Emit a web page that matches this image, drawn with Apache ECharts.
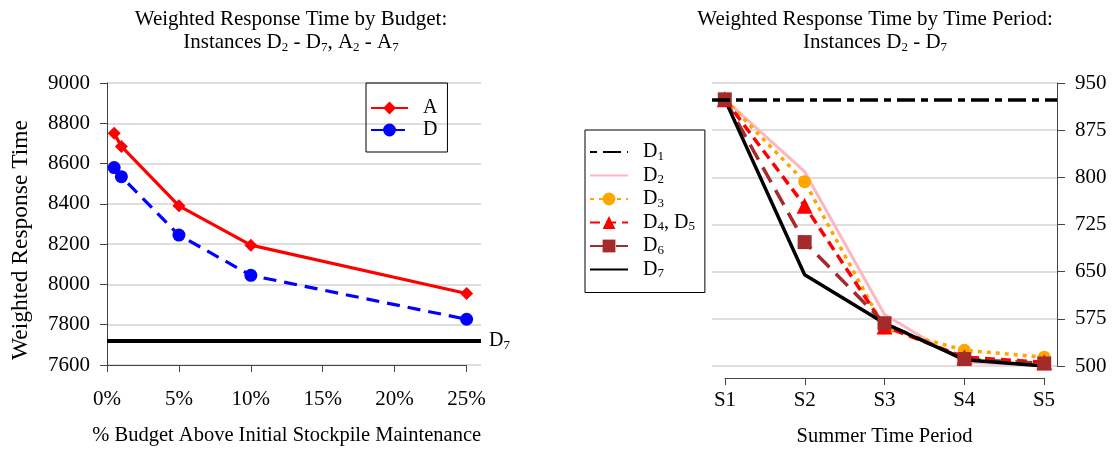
<!DOCTYPE html>
<html>
<head>
<meta charset="utf-8">
<script src="https://cdn.jsdelivr.net/npm/echarts@6/dist/echarts.min.js"></script>
<style>
  html, body { margin: 0; padding: 0; background: #fff; }
  #chart { width: 1112px; height: 452px; }
</style>
</head>
<body>
<div id="chart"></div>
<script>
// left panel - response time vs budget (%)
const budgetPct = [0.5, 1, 5, 10, 25]
const seriesA = [8750, 8685, 8390, 8195, 7955]
const seriesD = [8580, 8535, 8245, 8045, 7827]
const baselineD7 = 7720

// right panel - response time by summer period
const periods = ['S1', 'S2', 'S3', 'S4', 'S5']
const levelD1 = 924
const lineD2 = [924, 809, 582, 506, 501]
const lineD3 = [924, 793, 560, 525, 514]
const lineD4D5 = [924, 755, 563, 514, 506]
const lineD6 = [924, 697, 568, 511, 504]
const lineD7 = [924, 645, 568, 510, 500]

const FONT = 'Liberation Serif'
const AXIS_COLOR = '#444'
const GRID_COLOR = '#d3d3d3'

const rich = {
  s: { fontFamily: FONT, fontSize: 13, lineHeight: 14, verticalAlign: 'bottom', color: '#000' }
}
const subs = name => name.replace(/(\d)/g, '{s|$1}')

const pairs = (xs, ys) => xs.map((x, i) => [x, ys[i]])
const periodPairs = ys => periods.map((p, i) => [i + 1, ys[i]])

// legend entries without a marker (hide the default circle)
const noMarker = name => ({ name: name, itemStyle: { opacity: 0, color: 'rgba(0,0,0,0)', borderWidth: 0 } })

const chart = echarts.init(document.getElementById('chart'), null, { renderer: 'canvas' })

function lineSeries(name, data, color, opts) {
  return Object.assign({
    name: name,
    type: 'line',
    xAxisIndex: 2,
    yAxisIndex: 2,
    data: periodPairs(data),
    symbol: 'none',
    color: color,
    lineStyle: { color: color, width: 3 },
    itemStyle: { color: color },
    emphasis: { disabled: true }
  }, opts)
}

chart.setOption({
  animation: false,
  textStyle: { fontFamily: FONT, color: '#000' },
  title: [
    {
      text: 'Weighted Response Time by Budget:\nInstances D{s|2} - D{s|7}, A{s|2} - A{s|7}',
      left: 286,
      top: 3,
      textAlign: 'center',
      textStyle: { fontFamily: FONT, fontSize: 21, fontWeight: 'normal', color: '#000', lineHeight: 23, rich: rich }
    },
    {
      text: 'Weighted Response Time by Time Period:\nInstances D{s|2} - D{s|7}',
      left: 870,
      top: 3,
      textAlign: 'center',
      textStyle: { fontFamily: FONT, fontSize: 21, fontWeight: 'normal', color: '#000', lineHeight: 23, rich: rich }
    }
  ],
  legend: [
    {
      data: ['A', 'D'],
      orient: 'vertical',
      left: 366,
      top: 83,
      itemWidth: 37,
      itemHeight: 16,
      itemGap: 2,
      padding: [15, 10, 12, 4],
      borderColor: '#000',
      borderWidth: 1,
      borderRadius: 0,
      textStyle: { fontFamily: FONT, fontSize: 20, color: '#000', padding: [0, 0, 0, 10] }
    },
    {
      data: [noMarker('D1'), noMarker('D2'), 'D3', 'D4, D5', 'D6', noMarker('D7')],
      orient: 'vertical',
      left: 585,
      top: 130,
      itemWidth: 38,
      itemHeight: 16,
      itemGap: 1.5,
      padding: [11, 10, 12, 4],
      borderColor: '#000',
      borderWidth: 1,
      borderRadius: 0,
      formatter: subs,
      textStyle: { fontFamily: FONT, fontSize: 20, lineHeight: 22, color: '#000', padding: [0, 0, 0, 10], rich: rich }
    }
  ],
  grid: [
    { left: 107, top: 83, width: 374, height: 282, outerBoundsMode: 'none' },
    { left: 107, top: 115, width: 359.4, height: 250, outerBoundsMode: 'none' },
    { left: 712, top: 83, width: 345, height: 283, outerBoundsMode: 'none' },
    { left: 725, top: 83, width: 319, height: 283, outerBoundsMode: 'none' }
  ],
  xAxis: [
    { gridIndex: 0, type: 'value', min: 0, max: 26, show: false },
    {
      gridIndex: 1, type: 'value', min: 0, max: 25, interval: 5, offset: 12,
      axisLine: { show: true, lineStyle: { color: AXIS_COLOR, width: 1 } },
      axisTick: { show: true, length: 7, lineStyle: { color: AXIS_COLOR } },
      axisLabel: { formatter: '{value}%', margin: 12, fontFamily: FONT, fontSize: 21, color: '#000' },
      splitLine: { show: false },
      name: '% Budget Above Initial Stockpile Maintenance',
      nameLocation: 'middle',
      nameGap: 48,
      nameTextStyle: { fontFamily: FONT, fontSize: 20.5, color: '#000' }
    },
    { gridIndex: 2, type: 'value', min: 0.84, max: 5.16, show: false },
    {
      gridIndex: 3, type: 'category', data: periods, boundaryGap: false, offset: 12,
      axisLine: { show: true, lineStyle: { color: AXIS_COLOR, width: 1 } },
      axisTick: { show: true, length: 7, alignWithLabel: true, lineStyle: { color: AXIS_COLOR } },
      axisLabel: { margin: 12, fontFamily: FONT, fontSize: 21, color: '#000' },
      splitLine: { show: false },
      name: 'Summer Time Period',
      nameLocation: 'middle',
      nameGap: 48,
      nameTextStyle: { fontFamily: FONT, fontSize: 20.5, color: '#000' }
    }
  ],
  yAxis: [
    {
      gridIndex: 0, type: 'value', min: 7600, max: 9000, interval: 200,
      axisLine: { show: true, lineStyle: { color: AXIS_COLOR, width: 1 } },
      axisTick: { show: true, length: 7, lineStyle: { color: AXIS_COLOR } },
      axisLabel: { margin: 17, fontFamily: FONT, fontSize: 21, color: '#000', formatter: v => String(v) },
      splitLine: { show: true, lineStyle: { color: GRID_COLOR, width: 1.5 } }
    },
    {
      gridIndex: 1, type: 'value', min: 0, max: 1,
      axisLine: { show: false }, axisTick: { show: false }, axisLabel: { show: false }, splitLine: { show: false },
      name: 'Weighted Response Time',
      nameLocation: 'middle',
      nameGap: 74,
      nameTextStyle: { fontFamily: FONT, fontSize: 23.5, color: '#000' }
    },
    {
      gridIndex: 2, type: 'value', position: 'right', min: 500, max: 950, interval: 75,
      axisLine: { show: true, lineStyle: { color: AXIS_COLOR, width: 1 } },
      axisTick: { show: true, length: 8, lineStyle: { color: AXIS_COLOR } },
      axisLabel: { margin: 18, fontFamily: FONT, fontSize: 21, color: '#000', formatter: v => String(v) },
      splitLine: { show: true, lineStyle: { color: GRID_COLOR, width: 1.5 } }
    },
    { gridIndex: 3, type: 'value', min: 500, max: 950, show: false }
  ],
  series: [
    {
      name: 'D7 baseline',
      type: 'line',
      xAxisIndex: 0,
      yAxisIndex: 0,
      data: [],
      markLine: {
        silent: true,
        symbol: 'none',
        data: [{ yAxis: baselineD7 }],
        lineStyle: { color: '#000', width: 4, type: 'solid' },
        label: {
          show: true,
          position: 'end',
          distance: 8,
          formatter: 'D{s|7}',
          fontFamily: FONT,
          fontSize: 20,
          lineHeight: 22,
          color: '#000',
          rich: rich
        },
        emphasis: { disabled: true }
      }
    },
    {
      name: 'A',
      type: 'line',
      xAxisIndex: 0,
      yAxisIndex: 0,
      data: pairs(budgetPct, seriesA),
      symbol: 'diamond',
      symbolSize: 13,
      color: '#ff0000',
      lineStyle: { color: '#ff0000', width: 3.2 },
      itemStyle: { color: '#ff0000' },
      emphasis: { disabled: true }
    },
    {
      name: 'D',
      type: 'line',
      xAxisIndex: 0,
      yAxisIndex: 0,
      data: pairs(budgetPct, seriesD),
      symbol: 'circle',
      symbolSize: 13,
      color: '#0000ff',
      lineStyle: { color: '#0000ff', width: 3.2, type: [13, 8] },
      itemStyle: { color: '#0000ff' },
      emphasis: { disabled: true }
    },
    {
      name: 'D1',
      type: 'line',
      xAxisIndex: 2,
      yAxisIndex: 2,
      data: [],
      symbol: 'none',
      color: '#000',
      lineStyle: { color: '#000', width: 3.5, type: [7, 6, 18, 6] },
      emphasis: { disabled: true },
      markLine: {
        silent: true,
        symbol: 'none',
        data: [{ yAxis: levelD1 }],
        lineStyle: { color: '#000', width: 3.5, type: [18, 6, 7, 6] },
        label: { show: false },
        emphasis: { disabled: true }
      }
    },
    lineSeries('D2', lineD2, '#ffb6c1', { lineStyle: { color: '#ffb6c1', width: 3 } }),
    lineSeries('D3', lineD3, '#ffa500', {
      symbol: 'circle', symbolSize: 13,
      lineStyle: { color: '#ffa500', width: 3.5, type: [4, 5] }
    }),
    lineSeries('D4, D5', lineD4D5, '#ff0000', {
      symbol: 'triangle', symbolSize: 16,
      lineStyle: { color: '#ff0000', width: 3.5, type: [10, 6] }
    }),
    lineSeries('D6', lineD6, '#a52a2a', {
      symbol: 'rect', symbolSize: 14,
      lineStyle: { color: '#a52a2a', width: 3.5, type: [17, 9] }
    }),
    lineSeries('D7', lineD7, '#000000', { lineStyle: { color: '#000', width: 3.5 } })
  ]
})
</script>
</body>
</html>
